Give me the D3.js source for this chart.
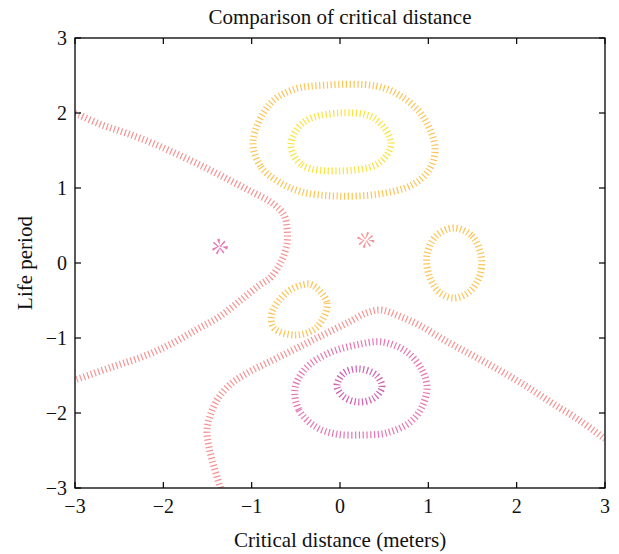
<!DOCTYPE html>
<html><head><meta charset="utf-8">
<script src="https://cdn.jsdelivr.net/npm/d3@7"></script>
<style>body{margin:0;background:#fff}svg{display:block}text{font-family:"Liberation Serif","DejaVu Serif",serif;fill:#111}</style>
</head><body><svg id="c" width="619" height="554"></svg>
<script>
const xTicks = [-3,-2,-1,0,1,2,3];
const yTicks = [-3,-2,-1,0,1,2,3];
const levels = [-6,-3,0,3,6];
const levelColors = ["#c2389e","#e0529f","#f27878","#fbb52c","#f8dc12"];

// contour lines: [x, y] in data units
const zeroLeft = [[-3.0,1.99],[-2.955,1.973],[-2.694,1.84],[-2.423,1.733],[-2.128,1.6],[-1.823,1.44],[-1.517,1.267],[-1.257,1.107],[-0.996,0.947],[-0.77,0.8],[-0.634,0.64],[-0.6,0.467],[-0.6,0.267],[-0.657,0.04],[-0.781,-0.187],[-0.917,-0.3],[-1.121,-0.493],[-1.37,-0.72],[-1.63,-0.893],[-1.936,-1.093],[-2.242,-1.253],[-2.581,-1.387],[-3.0,-1.56]];
const zeroBottom = [[-1.351,-3.0],[-1.426,-2.72],[-1.483,-2.453],[-1.506,-2.227],[-1.46,-2.0],[-1.37,-1.787],[-1.223,-1.6],[-1.03,-1.453],[-0.804,-1.32],[-0.577,-1.187],[-0.351,-1.053],[-0.125,-0.92],[0.102,-0.787],[0.294,-0.667],[0.464,-0.627],[0.668,-0.707],[0.894,-0.827],[1.2,-1.04],[1.494,-1.227],[1.8,-1.427],[2.106,-1.64],[2.4,-1.867],[2.706,-2.093],[3.0,-2.347]];
const zeroSmall = [[0.29,0.37],[0.35,0.307],[0.29,0.245],[0.23,0.307]];
const minusSixLoop = [[-0.034,-1.64],[0.045,-1.787],[0.215,-1.853],[0.385,-1.8],[0.475,-1.653],[0.408,-1.493],[0.215,-1.413],[0.045,-1.467]];
const minusThreeLoop = [[-0.509,-1.667],[-0.464,-1.96],[-0.272,-2.187],[-0.045,-2.28],[0.249,-2.293],[0.521,-2.267],[0.781,-2.133],[0.928,-1.92],[0.985,-1.653],[0.928,-1.427],[0.759,-1.187],[0.475,-1.053],[0.181,-1.093],[-0.125,-1.2],[-0.385,-1.4]];
const minusThreeSmall = [[-1.362,0.277],[-1.31,0.217],[-1.362,0.157],[-1.414,0.217]];
const threeTop = [[-0.985,1.613],[-0.894,1.28],[-0.691,1.08],[-0.43,0.947],[-0.045,0.893],[0.442,0.92],[0.815,1.04],[1.008,1.24],[1.076,1.533],[0.928,1.973],[0.668,2.24],[0.408,2.36],[-0.158,2.373],[-0.543,2.307],[-0.804,2.107]];
const threeRight = [[1.291,0.467],[1.494,0.36],[1.596,0.107],[1.585,-0.16],[1.46,-0.387],[1.291,-0.467],[1.121,-0.387],[1.008,-0.16],[0.985,0.107],[1.087,0.36]];
const threeLeft = [[-0.317,-0.293],[-0.147,-0.533],[-0.26,-0.853],[-0.498,-0.96],[-0.747,-0.867],[-0.77,-0.667],[-0.611,-0.4],[-0.43,-0.293]];
const sixLoop = [[-0.555,1.573],[-0.43,1.307],[-0.011,1.227],[0.442,1.333],[0.577,1.6],[0.385,1.933],[-0.011,2.0],[-0.408,1.88]];

const contours = [
  {level:0, closed:false, pts:zeroLeft},
  {level:0, closed:false, pts:zeroBottom},
  {level:0, closed:true, pts:zeroSmall},
  {level:-3, closed:true, pts:minusThreeLoop},
  {level:-3, closed:true, pts:minusThreeSmall},
  {level:-6, closed:true, pts:minusSixLoop},
  {level:3, closed:true, pts:threeTop},
  {level:3, closed:true, pts:threeRight},
  {level:3, closed:true, pts:threeLeft},
  {level:6, closed:true, pts:sixLoop}
];

const svg = d3.select("#c");
const m = {l:75, r:605, t:38, b:488};
const x = d3.scaleLinear().domain([-3,3]).range([m.l, m.r]);
const y = d3.scaleLinear().domain([-3,3]).range([m.b, m.t]);
const color = d3.scaleOrdinal().domain(levels).range(levelColors);

svg.append("defs").append("clipPath").attr("id","clip").append("rect")
  .attr("x",m.l).attr("y",m.t).attr("width",m.r-m.l).attr("height",m.b-m.t);

const g = svg.append("g").attr("clip-path","url(#clip)");
const lineOpen = d3.line().x(d=>x(d[0])).y(d=>y(d[1])).curve(d3.curveCatmullRom.alpha(0.5));
const lineClosed = d3.line().x(d=>x(d[0])).y(d=>y(d[1])).curve(d3.curveCatmullRomClosed.alpha(0.5));
g.selectAll("path.ct").data(contours).join("path").attr("class","ct")
  .attr("d", d => (d.closed ? lineClosed : lineOpen)(d.pts))
  .attr("fill","none")
  .attr("stroke", d => color(d.level))
  .attr("stroke-width", 7)
  .attr("stroke-dasharray","1.2 2.6")
  .attr("stroke-opacity",0.8);

// frame & ticks
svg.append("rect").attr("x",m.l).attr("y",m.t).attr("width",m.r-m.l).attr("height",m.b-m.t)
  .attr("fill","none").attr("stroke","#000").attr("stroke-width",1.3);
const tl = 6;
const ax = svg.append("g").attr("stroke","#000").attr("stroke-width",1.2);
xTicks.forEach(t=>{
  ax.append("line").attr("x1",x(t)).attr("x2",x(t)).attr("y1",m.b).attr("y2",m.b-tl);
  ax.append("line").attr("x1",x(t)).attr("x2",x(t)).attr("y1",m.t).attr("y2",m.t+tl);
});
yTicks.forEach(t=>{
  ax.append("line").attr("y1",y(t)).attr("y2",y(t)).attr("x1",m.l).attr("x2",m.l+tl);
  ax.append("line").attr("y1",y(t)).attr("y2",y(t)).attr("x1",m.r).attr("x2",m.r-tl);
});
const fmt = t => t < 0 ? "\u2212" + Math.abs(t) : String(t);
svg.selectAll("text.xt").data(xTicks).join("text").attr("class","xt")
  .attr("x",d=>x(d)).attr("y",m.b+25).attr("text-anchor","middle").attr("font-size",20).text(fmt);
svg.selectAll("text.yt").data(yTicks).join("text").attr("class","yt")
  .attr("x",m.l-8).attr("y",d=>y(d)+7).attr("text-anchor","end").attr("font-size",20).text(fmt);

svg.append("text").attr("x",(m.l+m.r)/2).attr("y",24).attr("text-anchor","middle")
  .attr("font-size",21).text("Comparison of critical distance");
svg.append("text").attr("x",(m.l+m.r)/2).attr("y",547).attr("text-anchor","middle")
  .attr("font-size",21).text("Critical distance (meters)");
svg.append("text").attr("transform",`translate(32,${(m.t+m.b)/2}) rotate(-90)`).attr("text-anchor","middle")
  .attr("font-size",21).text("Life period");
</script></body></html>
